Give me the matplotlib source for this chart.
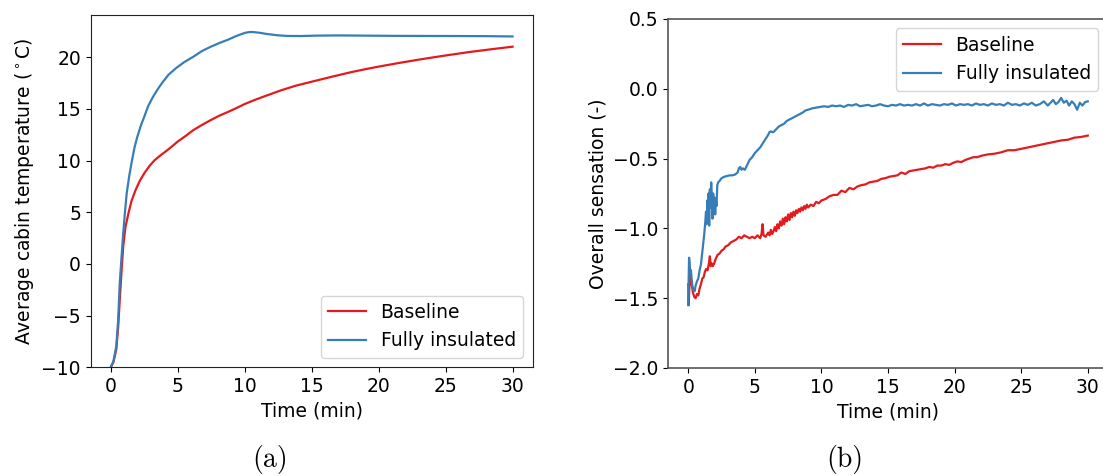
import matplotlib.pyplot as plt

# (a) average cabin temperature
time_a_base = [0.0, 0.2, 0.41, 0.55, 0.67, 0.8, 0.93, 1.1, 1.32, 1.55, 1.85, 2.15, 2.5, 2.9, 3.29,
               3.7, 4.07, 4.5, 5.0, 5.6, 6.17, 6.8, 7.47, 8.1, 8.78, 9.4, 10.0, 10.7, 11.4, 12.7,
               13.8, 15.0, 16.5, 17.9, 19.0, 20.0, 21.5, 23.2, 25.0, 26.7, 28.4, 30.0]
temp_base = [-10.0, -9.5, -8.3, -6.2, -3.5, -0.8, 1.7, 3.6, 4.9, 6.1, 7.15, 8.0, 8.77, 9.5, 10.06,
             10.5, 10.86, 11.3, 11.85, 12.4, 12.96, 13.45, 13.93, 14.35, 14.73, 15.1, 15.48, 15.85,
             16.19, 16.8, 17.25, 17.64, 18.12, 18.55, 18.85, 19.1, 19.45, 19.82, 20.18, 20.5,
             20.78, 21.03]

time_a_ins = [0.0, 0.2, 0.41, 0.55, 0.67, 0.8, 0.93, 1.06, 1.19, 1.39, 1.59, 1.78, 1.98, 2.25, 2.5,
              2.8, 3.16, 3.5, 3.81, 4.3, 4.86, 5.5, 6.17, 6.8, 7.47, 8.1, 8.78, 9.4, 10.0, 10.3,
              10.6, 11.1, 11.6, 12.4, 13.2, 14.2, 15.3, 17.0, 19.0, 21.0, 23.2, 26.0, 28.0, 30.0]
temp_ins = [-10.0, -9.4, -8.0, -5.5, -1.9, 0.6, 2.96, 5.0, 6.83, 8.6, 10.06, 11.3, 12.3, 13.4, 14.25,
            15.3, 16.19, 16.9, 17.48, 18.3, 18.94, 19.55, 20.06, 20.6, 21.03, 21.38, 21.72, 22.08,
            22.36, 22.44, 22.45, 22.38, 22.27, 22.14, 22.07, 22.06, 22.1, 22.12, 22.1, 22.08, 22.07,
            22.06, 22.05, 22.02]

# (b) overall sensation
time_b_base = [0.0, 0.03, 0.08, 0.15, 0.25, 0.35, 0.45, 0.55, 0.65, 0.75, 0.85, 0.95, 1.05, 1.15,
               1.25, 1.35, 1.45, 1.55, 1.62, 1.68, 1.75, 1.85, 1.95, 2.05, 2.2, 2.35, 2.5, 2.65,
               2.8, 3.0, 3.2, 3.4, 3.6, 3.8, 4.0, 4.2, 4.4, 4.6, 4.8, 5.0, 5.2, 5.4, 5.5, 5.58,
               5.65, 5.8, 6.0, 6.1, 6.2, 6.3, 6.4, 6.5, 6.6, 6.7, 6.8, 6.9, 7.0, 7.1, 7.2, 7.3,
               7.4, 7.5, 7.6, 7.7, 7.8, 7.9, 8.0, 8.1, 8.2, 8.3, 8.4, 8.5, 8.6, 8.7, 8.8, 8.9,
               9.0, 9.2, 9.4, 9.6, 9.8, 10.0, 10.3, 10.6, 10.9, 11.2, 11.5, 11.8, 12.1,
               12.4, 12.7, 13.0, 13.3, 13.6, 13.9, 14.2, 14.5, 14.8, 15.1, 15.4, 15.7, 16.0, 16.3,
               16.6, 16.9, 17.2, 17.5, 17.8, 18.1, 18.4, 18.7, 19.0, 19.3, 19.6, 19.9, 20.2, 20.5,
               20.8, 21.1, 21.4, 21.7, 22.0, 22.5, 23.0, 23.5, 24.0, 24.5, 25.0, 25.5, 26.0, 26.5,
               27.0, 27.5, 28.0, 28.5, 29.0, 29.5, 30.0]
sens_base = [-1.40, -1.55, -1.42, -1.33, -1.40, -1.46, -1.49, -1.50, -1.47, -1.48, -1.43, -1.40,
             -1.36, -1.35, -1.31, -1.29, -1.30, -1.25, -1.20, -1.27, -1.25, -1.27, -1.25, -1.22,
             -1.19, -1.18, -1.16, -1.15, -1.13, -1.12, -1.10, -1.09, -1.08, -1.06, -1.07, -1.05,
             -1.06, -1.07, -1.06, -1.07, -1.05, -1.07, -1.04, -0.97, -1.05, -1.06, -1.03, -1.05,
             -1.01, -1.04, -1.02, -0.99, -1.02, -0.97, -1.00, -0.95, -0.98, -0.93, -0.97, -0.92,
             -0.95, -0.90, -0.94, -0.89, -0.92, -0.88, -0.91, -0.87, -0.89, -0.86, -0.88, -0.85,
             -0.87, -0.84, -0.86, -0.83, -0.85, -0.83, -0.84, -0.81, -0.82, -0.80, -0.79, -0.77,
             -0.76, -0.76, -0.73, -0.74, -0.71, -0.72, -0.70, -0.69, -0.685, -0.67, -0.665, -0.66,
             -0.645, -0.64, -0.63, -0.625, -0.62, -0.60, -0.61, -0.59, -0.585, -0.58, -0.575, -0.57,
             -0.56, -0.565, -0.55, -0.55, -0.54, -0.545, -0.53, -0.52, -0.525, -0.51, -0.50, -0.49,
             -0.49, -0.48, -0.47, -0.465, -0.455, -0.44, -0.44, -0.43, -0.42, -0.41, -0.40, -0.39,
             -0.38, -0.37, -0.365, -0.35, -0.345, -0.335]

time_b_ins = [0.0, 0.03, 0.06, 0.10, 0.15, 0.20, 0.25, 0.32, 0.40, 0.48, 0.55, 0.65, 0.75, 0.85,
              0.95, 1.05, 1.12, 1.20, 1.28, 1.33, 1.38, 1.43, 1.48, 1.52, 1.57, 1.62, 1.67, 1.72,
              1.77, 1.82, 1.87, 1.92, 1.97, 2.02, 2.07, 2.12, 2.18, 2.25, 2.35, 2.5, 2.7, 2.9, 3.1,
              3.3, 3.5, 3.7, 3.8, 3.9, 4.0, 4.1, 4.25, 4.4, 4.6, 4.8, 5.0, 5.2, 5.4, 5.6, 5.8, 6.0,
              6.1, 6.2, 6.3, 6.4, 6.6, 6.8, 7.0, 7.2, 7.4, 7.6, 7.8, 8.0, 8.2, 8.4, 8.6, 8.8, 9.0,
              9.3, 9.6, 9.9, 10.2, 10.5, 10.8, 11.1, 11.4, 11.7, 12.0, 12.3, 12.6, 12.9, 13.2, 13.5,
              13.8, 14.1, 14.4, 14.7, 15.0, 15.3, 15.6, 15.9, 16.2, 16.5, 16.8, 17.1, 17.4, 17.7,
              18.0, 18.3, 18.6, 18.9, 19.2, 19.5, 19.8, 20.1, 20.4, 20.7, 21.0, 21.3, 21.6, 21.9,
              22.2, 22.5, 22.8, 23.1, 23.4, 23.7, 24.0, 24.3, 24.6, 24.9, 25.2, 25.5, 25.8, 26.1,
              26.4, 26.7, 27.0, 27.2, 27.4, 27.6, 27.8, 28.0, 28.2, 28.4, 28.6, 28.8, 29.0, 29.2,
              29.4, 29.6, 29.8, 30.0]
sens_ins = [-1.55, -1.35, -1.21, -1.25, -1.32, -1.30, -1.36, -1.42, -1.44, -1.45, -1.41, -1.38,
            -1.36, -1.30, -1.26, -1.17, -1.10, -1.04, -0.95, -0.88, -0.97, -0.80, -0.92, -0.75,
            -0.98, -0.72, -0.85, -0.67, -0.80, -0.93, -0.75, -0.88, -0.78, -0.90, -0.80, -0.84,
            -0.69, -0.67, -0.66, -0.64, -0.63, -0.625, -0.62, -0.62, -0.615, -0.60, -0.57, -0.56,
            -0.58, -0.57, -0.58, -0.55, -0.51, -0.49, -0.46, -0.44, -0.42, -0.39, -0.36, -0.33,
            -0.31, -0.305, -0.31, -0.31, -0.29, -0.27, -0.26, -0.25, -0.23, -0.22, -0.21, -0.20,
            -0.19, -0.18, -0.17, -0.155, -0.15, -0.14, -0.135, -0.13, -0.125, -0.13, -0.12, -0.125,
            -0.12, -0.13, -0.115, -0.12, -0.11, -0.125, -0.12, -0.115, -0.125, -0.12, -0.11, -0.12,
            -0.125, -0.115, -0.12, -0.11, -0.12, -0.115, -0.12, -0.11, -0.12, -0.105,
            -0.12, -0.11, -0.115, -0.12, -0.11, -0.115, -0.105, -0.12, -0.11, -0.115, -0.11,
            -0.12, -0.105, -0.115, -0.11, -0.12, -0.105, -0.115, -0.11, -0.12, -0.10, -0.115,
            -0.11, -0.12, -0.105, -0.115, -0.10, -0.12, -0.11, -0.09, -0.12, -0.10, -0.08, -0.11,
            -0.095, -0.065, -0.10, -0.085, -0.12, -0.09, -0.11, -0.15, -0.10, -0.12, -0.095, -0.09]

RED = '#e41a1c'
BLUE = '#377eb8'

plt.rcParams['font.size'] = 13.5

fig = plt.figure(figsize=(11.03, 4.76), dpi=100)
ax1 = fig.add_axes([0.0822, 0.2284, 0.4007, 0.7395])
ax2 = fig.add_axes([0.6059, 0.2269, 0.3984, 0.7332])

ax1.plot(time_a_base, temp_base, color=RED, lw=1.6, label='Baseline')
ax1.plot(time_a_ins, temp_ins, color=BLUE, lw=1.6, label='Fully insulated')
ax1.set_xlim(-1.5, 31.5)
ax1.set_ylim(-10, 24.07)
ax1.set_xticks([0, 5, 10, 15, 20, 25, 30])
ax1.set_yticks([-10, -5, 0, 5, 10, 15, 20])
ax1.set_xlabel('Time (min)')
ax1.set_ylabel(r'Average cabin temperature ($^\circ$C)')
ax1.legend(loc='lower right')
for sp in ax1.spines.values():
    sp.set_color('#222222')

ax2.plot(time_b_base, sens_base, color=RED, lw=1.6, label='Baseline')
ax2.plot(time_b_ins, sens_ins, color=BLUE, lw=1.6, label='Fully insulated')
ax2.set_xlim(-1.5, 31.5)
ax2.set_ylim(-2.0, 0.5)
ax2.set_xticks([0, 5, 10, 15, 20, 25, 30])
ax2.set_yticks([-2.0, -1.5, -1.0, -0.5, 0.0, 0.5])
ax2.set_xlabel('Time (min)')
ax2.set_ylabel('Overall sensation (-)')
ax2.legend(loc='upper right')
for sp in ax2.spines.values():
    sp.set_color('#555555')
    sp.set_linewidth(1.2)

fig.text(0.2448, 0.034, '(a)', family='cmr10', fontsize=20, ha='center', va='center')
fig.text(0.7655, 0.034, '(b)', family='cmr10', fontsize=20, ha='center', va='center')

fig.savefig('out.png', dpi=100)
